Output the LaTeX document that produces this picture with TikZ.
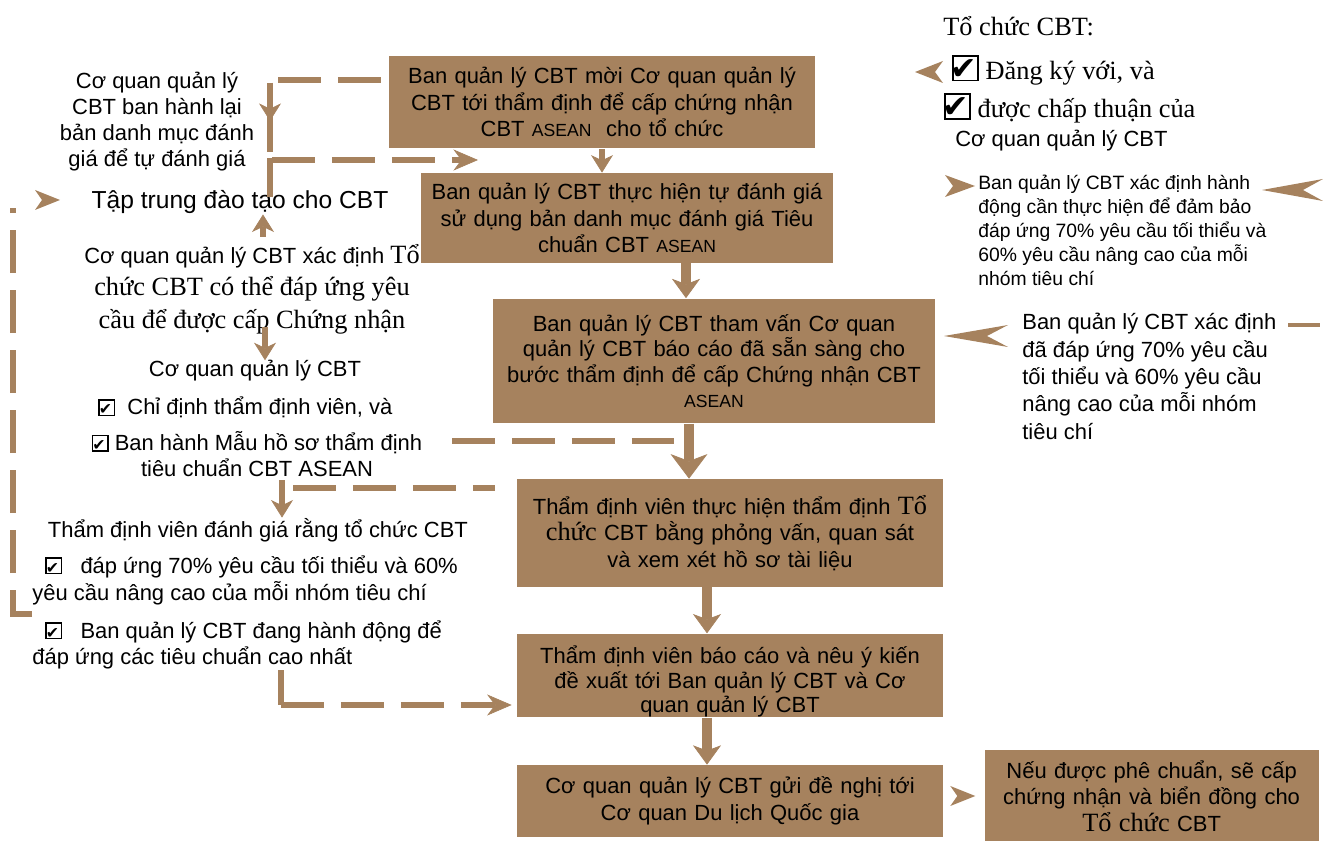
\documentclass[tikz,border=0pt]{standalone}
\usepackage{fontspec}
\setmainfont{Liberation Sans}
\newfontfamily\tnr{Liberation Serif}
\newfontfamily\djv{DejaVu Sans}
\usepackage{tikz}
\usetikzlibrary{arrows.meta}
\usetikzlibrary{positioning}

\definecolor{cbt}{RGB}{166,130,94}
\newcommand{\asean}{{\fontsize{10}{12}\selectfont ASEAN}}
% box with a tick: box size, frame width, tick size
\newcommand{\tickbox}[3]{\rlap{\setlength{\fboxsep}{0pt}\setlength{\fboxrule}{#2}\fbox{\rule{0pt}{#1}\rule{#1}{0pt}}}\makebox[#1]{\djv\fontsize{#3}{#3}\selectfont ✔}\hspace{#2}\hspace{#2}}
\newcommand{\ckbox}{\tickbox{8.2pt}{0.7pt}{9pt}}
\newcommand{\bigckbox}{\tickbox{13pt}{1.1pt}{18pt}}
\newcommand{\sr}[1]{{\tnr\fontsize{15}{18}\selectfont #1}}

\begin{document}
\begin{tikzpicture}[x=0.02cm,y=-0.02cm,
    flow box/.style={rectangle,fill=cbt,inner sep=0pt,align=center,font=\fontsize{12.5}{15}\selectfont},
    side note/.style={inner sep=0pt,align=center,font=\fontsize{12.5}{14.7}\selectfont},
    dash line/.style={draw=cbt,line width=3.6pt,dash pattern=on 0.86cm off 0.34cm},
    thin line/.style={draw=cbt,line width=3.8pt},
    thick line/.style={draw=cbt,line width=5.6pt},
    small tip/.style={-{Stealth[length=10pt,width=12.5pt,inset=3pt,line width=0.4pt]}},
    mid tip/.style={-{Stealth[length=11pt,width=16pt,inset=3pt,line width=0.4pt]}},
    big tip/.style={-{Stealth[length=14pt,width=21pt,inset=4pt,line width=0.4pt]}},
    dash tip/.style={-{Stealth[length=14pt,width=12pt,inset=4.5pt,line width=0.4pt]}},
    pics/chev/.style n args={3}{code={\fill[cbt] (0,0) -- (-#1,-#2) -- (-#1+#3,0) -- (-#1,#2) -- cycle;}}]

  \useasboundingbox (0,0) rectangle (1323,841);

  % main column
  \node[flow box,minimum width=8.54cm,minimum height=1.86cm,text width=8.4cm] (b1) at (602,102)
    {Ban quản lý CBT mời Cơ quan quản lý\\CBT tới thẩm định để cấp chứng nhận\\CBT \asean{}\ \ cho tổ chức};
  \node[flow box,minimum width=8.24cm,minimum height=1.8cm,text width=8.1cm] (b2) at (627,218)
    {Ban quản lý CBT thực hiện tự đánh giá\\sử dụng bản danh mục đánh giá Tiêu\\chuẩn CBT \asean};
  \node[flow box,minimum width=8.84cm,minimum height=2.5cm,text width=8.7cm,
        font=\fontsize{12.5}{14.5}\selectfont] (b3) at (714,361)
    {Ban quản lý CBT tham vấn Cơ quan\\quản lý CBT báo cáo đã sẵn sàng cho\\bước thẩm định để cấp Chứng nhận CBT\\\asean};
  \node[flow box,minimum width=8.52cm,minimum height=2.16cm,text width=8.4cm] (b4) at (730,533)
    {Thẩm định viên thực hiện thẩm định \sr{Tổ}\\\sr{chức} CBT bằng phỏng vấn, quan sát\\và xem xét hồ sơ tài liệu};
  \node[flow box,minimum width=8.52cm,minimum height=1.66cm,text width=8.4cm,
        font=\fontsize{12.5}{14}\selectfont] (b5) [below=0.92cm of b4]
    {\rule{0pt}{17pt}Thẩm định viên báo cáo và nêu ý kiến\\đề xuất tới Ban quản lý CBT và Cơ\\quan quản lý CBT};
  \node[flow box,minimum width=8.52cm,minimum height=1.44cm,text width=8.4cm] (b6) [below=0.94cm of b5]
    {Cơ quan quản lý CBT gửi đề nghị tới\\Cơ quan Du lịch Quốc gia};
  \node[flow box,minimum width=6.68cm,minimum height=1.84cm,text width=6.5cm] (b7) [right=0.82cm of b6,yshift=0.1cm]
    {Nếu được phê chuẩn, sẽ cấp\\chứng nhận và biển đồng cho\\\sr{Tổ chức} CBT};

  \coordinate (c23) at (686,0);
  \coordinate (c34) at (689,0);
  \coordinate (c45) at (707,0);
  \draw[thin line,small tip] (b1.south) -- (b1.south |- b2.north);
  \draw[thick line,mid tip] (b2.south -| c23) -- (b3.north -| c23);
  \draw[thick line,big tip] (b3.south -| c34) -- (b4.north -| c34);
  \draw[thick line,mid tip] (b4.south -| c45) -- (b5.north -| c45);
  \draw[thick line,mid tip] (b5.south -| c45) -- (b6.north -| c45);
  \pic at ([xshift=-0.18cm]b7.west) {chev={25}{10}{7}};

  % left side
  \node[side note,anchor=north] (regain) at (157,72)
    {Cơ quan quản lý\\CBT ban hành lại\\bản danh mục đánh\\giá để tự đánh giá};
  \node[side note,anchor=base,font=\fontsize{14}{16}\selectfont] (train) at (240,209) {Tập trung đào tạo cho CBT};
  \node[side note,anchor=north,font=\fontsize{12.5}{18.5}\selectfont] (decide) at (252,244)
    {Cơ quan quản lý CBT xác định \sr{Tổ}\\\sr{chức CBT có thể đáp ứng yêu}\\\sr{cầu để được cấp Chứng nhận}};
  \node[side note,anchor=base] (agency) at (255,377) {Cơ quan quản lý CBT};
  \node[side note,anchor=base west] (appoint) at (98,415) {\ckbox\ \ Chỉ định thẩm định viên, và};
  \node[side note,anchor=north] (issue) at (257,431) {\ckbox\ Ban hành Mẫu hồ sơ thẩm định\\tiêu chuẩn CBT ASEAN};
  \node[side note,anchor=base] (assess) at (258,537) {Thẩm định viên đánh giá rằng tổ chức CBT};
  \node[side note,anchor=north west,align=left,font=\fontsize{12.5}{15.7}\selectfont] (meet) at (32,555)
    {\hspace*{0.26cm}\ckbox\ \ \ đáp ứng 70\% yêu cầu tối thiểu và 60\%\\yêu cầu nâng cao của mỗi nhóm tiêu chí};
  \node[side note,anchor=north west,align=left,font=\fontsize{12.5}{15.3}\selectfont] (act) at (32,620)
    {\hspace*{0.26cm}\ckbox\ \ \ Ban quản lý CBT đang hành động để\\đáp ứng các tiêu chuẩn cao nhất};

  \coordinate (k1) at (278,80);
  \coordinate (k2) at (270,83);
  \coordinate (k3) at (270,121);
  \coordinate (k4) at (270,152);
  \coordinate (k5) at (270,158);
  \coordinate (k6) at (270,197);
  \coordinate (k7) at (272,160);
  \coordinate (k8) at (478,160);
  \draw[dash line] (k1) -- (k1 -| b1.west);
  \draw[thin line] (k2) -- (k4);
  \draw[thin line,small tip] (k2) -- (k3);
  \draw[dash line] (k5) -- (k6);
  \draw[dash line,dash tip] (k7) -- (k8);

  \coordinate (u1) at (263,0);
  \coordinate (u2) at (265,0);
  \draw[thin line,small tip,shorten <=0.14cm] (decide.north -| u1) -- (train.south -| u1);
  \draw[thin line,small tip,shorten <=-0.14cm] (decide.south -| u2) -- (agency.north -| u2);

  \coordinate (d1) at (452,441);
  \coordinate (d2) at (293,488);
  \coordinate (d3) at (495,488);
  \coordinate (d4) at (282,480);
  \draw[dash line,shorten >=0.3cm] (d1) -- (d1 -| c34);
  \draw[dash line] (d2) -- (d3);
  \draw[thin line,small tip] (d4) -- (assess.north -| d4);

  \coordinate (e1) at (281,670);
  \coordinate (e2) at (281,705);
  \draw[thin line] (e1) -- (e2);
  \draw[dash line,dash tip,shorten >=0.1cm] (e2) -- (e2 -| b5.west);

  \coordinate (f1) at (32,614);
  \coordinate (f2) at (13,614);
  \coordinate (f3) at (13,208);
  \draw[dash line] (f1) -- (f2) -- (f3);
  \pic at (60,200) {chev={25}{10}{7}};

  % right side
  \node[inner sep=0pt,anchor=west,font=\tnr\fontsize{15}{18}\selectfont] (org) at (943,26) {Tổ chức CBT:};
  \node[inner sep=0pt,anchor=west,font=\tnr\fontsize{15}{18}\selectfont] (reg) at (952,70) {\bigckbox\ Đăng ký với, và};
  \node[inner sep=0pt,anchor=west,font=\tnr\fontsize{15}{18}\selectfont] (appr) at (944,108) {\bigckbox\ được chấp thuận của};
  \node[side note,anchor=west] (agency2) at (955,141) {Cơ quan quản lý CBT};
  \node[side note,anchor=north west,align=left,font=\fontsize{11}{13.6}\selectfont] (plan) at (978,175)
    {Ban quản lý CBT xác định hành\\động cần thực hiện để đảm bảo\\đáp ứng 70\% yêu cầu tối thiểu và\\60\% yêu cầu nâng cao của mỗi\\nhóm tiêu chí};
  \node[side note,anchor=north west,align=left,font=\fontsize{12.5}{15.6}\selectfont] (ready) at (1022,313)
    {Ban quản lý CBT xác định\\đã đáp ứng 70\% yêu cầu\\tối thiểu và 60\% yêu cầu\\nâng cao của mỗi nhóm\\tiêu chí};

  \pic[rotate=180] at (915,72) {chev={28}{11}{8}};
  \pic at (975,186) {chev={30}{11}{8}};
  \pic[rotate=180] at (1262,190) {chev={61}{11}{20}};
  \pic[rotate=180] at (944,336) {chev={64}{11}{21}};

  \coordinate (g1) at (1288,325);
  \coordinate (g2) at (1320,325);
  \draw[draw=cbt,line width=2.8pt] (g1) -- (g2);

\end{tikzpicture}
\end{document}
